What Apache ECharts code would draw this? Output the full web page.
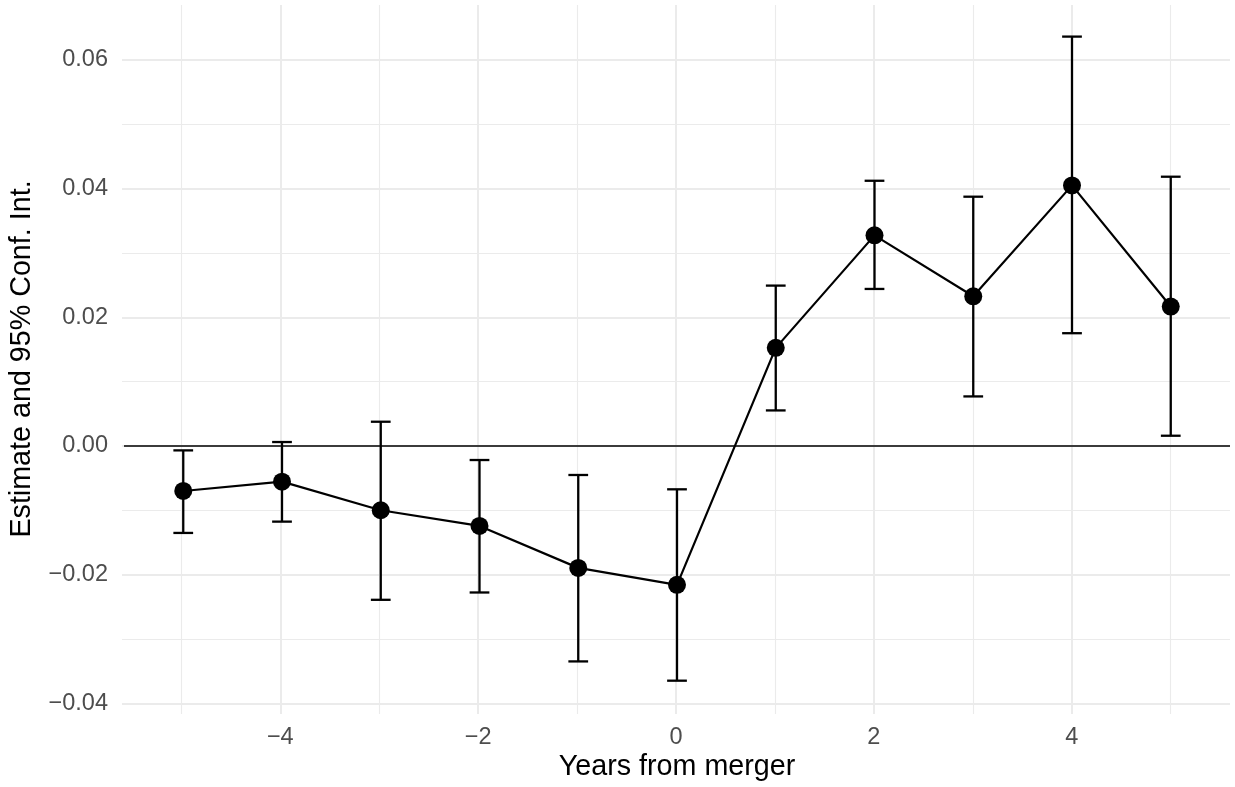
<!DOCTYPE html>
<html><head><meta charset="utf-8">
<script src="https://cdn.jsdelivr.net/npm/echarts@6/dist/echarts.min.js"></script>
<style>html,body{margin:0;padding:0;background:#fff}#c{width:1235px;height:787px}</style>
</head><body><div id="c"></div>
<script>
// ---- data ----
const years = [-5, -4, -3, -2, -1, 0, 1, 2, 3, 4, 5];
const estimate = [-0.0071, -0.00565, -0.0101, -0.01254, -0.01907, -0.02171, 0.01518, 0.03269, 0.02321, 0.04047, 0.02161];
const lower = [-0.01363, -0.01187, -0.02404, -0.0229, -0.03363, -0.03663, 0.00544, 0.02435, 0.00762, 0.01746, 0.0015];
const upper = [-0.00078, 0.00052, 0.00368, -0.00228, -0.00461, -0.00684, 0.02487, 0.04119, 0.03871, 0.06363, 0.04182];
const xTicks = [-4, -2, 0, 2, 4];
const yTicks = [-0.04, -0.02, 0, 0.02, 0.04, 0.06];
const xTitle = 'Years from merger';
const yTitle = 'Estimate and 95% Conf. Int.';

// ---- layout ----
const FONT = '"Liberation Sans", Arial, Helvetica, sans-serif';
const L = 122, R = 1230, T = 5, B = 714;
const xMin = -5.6, xMax = 5.6, yMin = -0.04166, yMax = 0.06855;
const px = v => L + (v - xMin) / (xMax - xMin) * (R - L);
const py = v => B - (v - yMin) / (yMax - yMin) * (B - T);
const xStep = xTicks[1] - xTicks[0];
const yStep = yTicks[1] - yTicks[0];
const xMinorLo = xTicks[0] - xStep / 2, xMinorHi = xTicks[xTicks.length - 1] + xStep / 2;
const yMinorLo = yTicks[0] + yStep / 2, yMinorHi = yTicks[yTicks.length - 1] - yStep / 2;
const GRID = '#EBEBEB';
const TICK_FS = 23.5, TITLE_FS = 28.7;
const minus = s => s.replace('-', '\u2212');

const fmtY = v => minus(Math.abs(v) < 1e-9 ? '0.00' : v.toFixed(2));
const fmtX = v => minus(Math.abs(v) < 1e-9 ? '0' : String(Math.round(v)));

const grids = [
  { left: L, top: T, width: R - L, height: B - T },
  { left: px(xTicks[0]), top: T, width: px(xTicks[xTicks.length - 1]) - px(xTicks[0]), height: B - T },
  { left: px(xMinorLo), top: T, width: px(xMinorHi) - px(xMinorLo), height: B - T },
  { left: L, top: py(yTicks[yTicks.length - 1]), width: R - L, height: py(yTicks[0]) - py(yTicks[yTicks.length - 1]) },
  { left: L, top: py(yMinorHi), width: R - L, height: py(yMinorLo) - py(yMinorHi) }
];

const hidden = (i) => ({ gridIndex: i, type: 'value', show: false });
const bare = { axisLine: { show: false }, axisTick: { show: false }, axisLabel: { show: false }, splitLine: { show: false } };

const option = {
  animation: false,
  backgroundColor: '#fff',
  grid: grids.map(g => Object.assign({ containLabel: false }, g)),
  xAxis: [
    Object.assign({ gridIndex: 0, type: 'value', min: xMin, max: xMax,
      name: xTitle, nameLocation: 'middle', nameGap: 40,
      nameTextStyle: { fontSize: TITLE_FS, color: '#000', fontFamily: FONT } }, bare),
    {
      gridIndex: 1, type: 'value', min: xTicks[0], max: xTicks[xTicks.length - 1], interval: xStep,
      axisLine: { show: false }, axisTick: { show: false },
      splitLine: { show: true, lineStyle: { color: GRID, width: 2 } },
      axisLabel: { formatter: fmtX, fontSize: TICK_FS, color: '#4D4D4D', fontFamily: FONT, margin: 12 }
    },
    {
      gridIndex: 2, type: 'value', min: xMinorLo, max: xMinorHi, interval: xStep,
      axisLine: { show: false }, axisTick: { show: false }, axisLabel: { show: false },
      splitLine: { show: true, lineStyle: { color: GRID, width: 1.1 } }
    },
    hidden(3), hidden(4)
  ],
  yAxis: [
    Object.assign({ gridIndex: 0, type: 'value', min: yMin, max: yMax,
      name: yTitle, nameLocation: 'middle', nameGap: 87,
      nameTextStyle: { fontSize: TITLE_FS, color: '#000', fontFamily: FONT } }, bare),
    hidden(1), hidden(2),
    {
      gridIndex: 3, type: 'value', min: yTicks[0], max: yTicks[yTicks.length - 1], interval: yStep,
      axisLine: { show: false }, axisTick: { show: false },
      splitLine: { show: true, lineStyle: { color: GRID, width: 2 } },
      axisLabel: { formatter: fmtY, fontSize: TICK_FS, color: '#4D4D4D', fontFamily: FONT, margin: 14 }
    },
    {
      gridIndex: 4, type: 'value', min: yMinorLo, max: yMinorHi, interval: yStep,
      axisLine: { show: false }, axisTick: { show: false }, axisLabel: { show: false },
      splitLine: { show: true, lineStyle: { color: GRID, width: 1.1 } }
    }
  ],
  series: [
    {
      type: 'line', xAxisIndex: 0, yAxisIndex: 0,
      data: [], symbol: 'none', silent: true, z: 1,
      markLine: {
        silent: true, symbol: 'none', label: { show: false },
        lineStyle: { color: '#000', width: 1.6, type: 'solid' },
        data: [{ yAxis: 0 }]
      }
    },
    {
      type: 'custom', xAxisIndex: 0, yAxisIndex: 0, z: 3,
      encode: { x: 0, y: [1, 2] },
      data: years.map((x, i) => [x, lower[i], upper[i]]),
      renderItem: (params, api) => {
        const x = api.value(0), lo = api.value(1), hi = api.value(2);
        const pLo = api.coord([x, lo]), pHi = api.coord([x, hi]);
        const cap = 0.1;
        const cl = api.coord([x - cap, hi])[0], cr = api.coord([x + cap, hi])[0];
        const st = { stroke: '#000', lineWidth: 2.3 };
        return {
          type: 'group', children: [
            { type: 'line', shape: { x1: pLo[0], y1: pLo[1], x2: pHi[0], y2: pHi[1] }, style: st },
            { type: 'line', shape: { x1: cl, y1: pHi[1], x2: cr, y2: pHi[1] }, style: st },
            { type: 'line', shape: { x1: cl, y1: pLo[1], x2: cr, y2: pLo[1] }, style: st }
          ]
        };
      }
    },
    {
      type: 'line', xAxisIndex: 0, yAxisIndex: 0, z: 4,
      data: years.map((x, i) => [x, estimate[i]]),
      symbol: 'circle', symbolSize: 18, showSymbol: true,
      itemStyle: { color: '#000', borderWidth: 0 },
      lineStyle: { color: '#000', width: 2.2 },
      emphasis: { disabled: true }
    }
  ]
};
const chart = echarts.init(document.getElementById('c'), null, { renderer: 'canvas' });
chart.setOption(option);
</script></body></html>
